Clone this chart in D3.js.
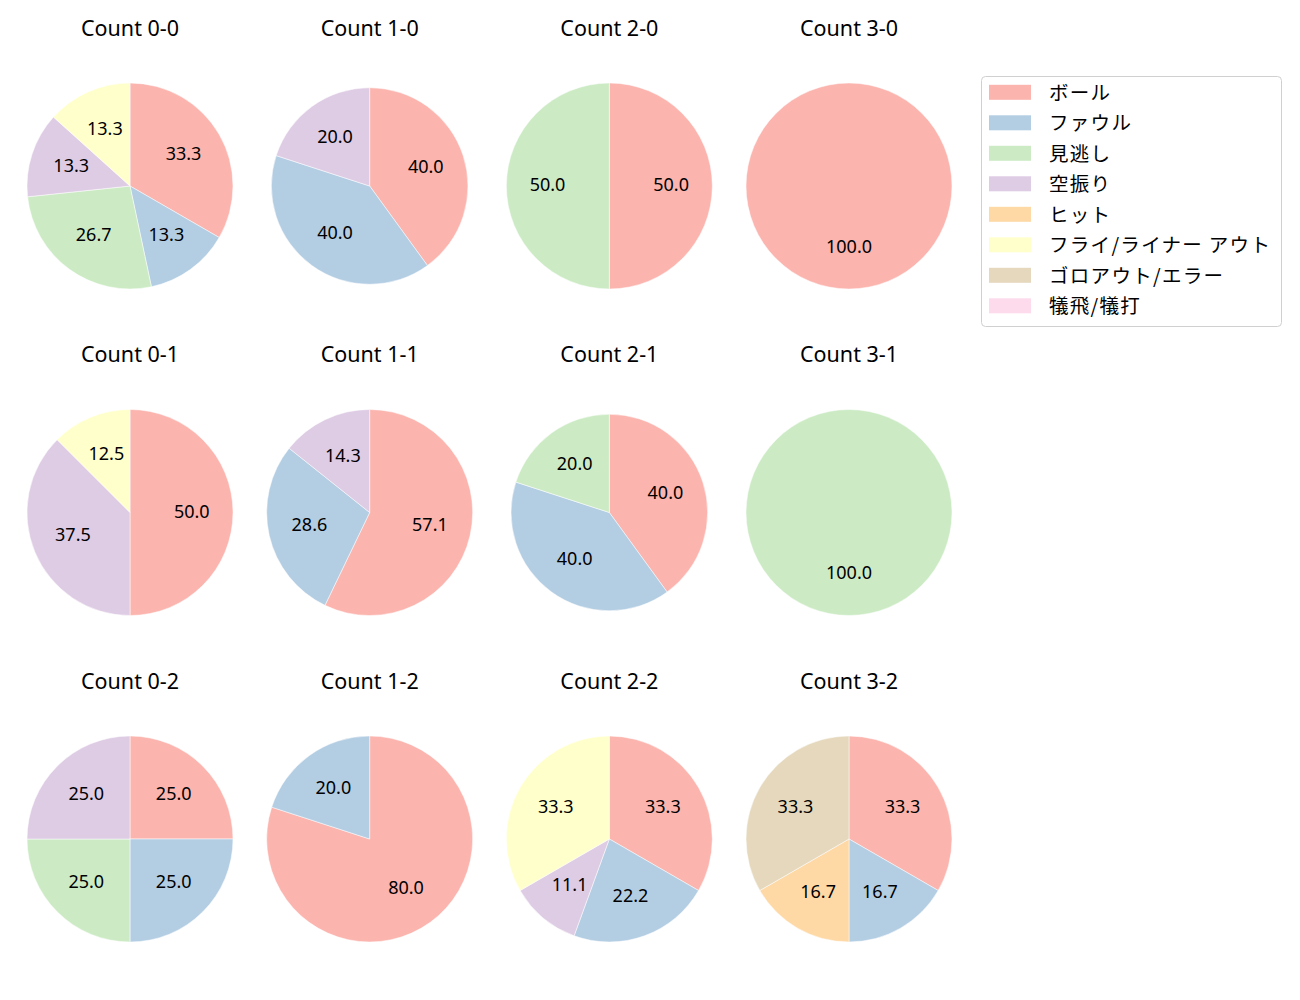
<!DOCTYPE html>
<html>
<head>
    <meta charset="utf-8">
    <title>Count pies</title>
    <script src="https://cdnjs.cloudflare.com/ajax/libs/d3/7.8.5/d3.min.js"></script>
    <style>
        body { margin: 0; background: #fff; }
        text { fill: #000; }
        .title { font-family: "Noto Sans", sans-serif; font-size: 21.5px; }
        .pct { font-family: "Noto Sans", sans-serif; font-size: 18px; }
        .legend-text { font-family: "Noto Sans CJK JP", sans-serif; font-size: 19.5px; letter-spacing: 1.3px; }
    </style>
</head>
<body>
    <div id="chart"></div>
    <script>
        // result categories (legend order)
        const categories = ['ボール', 'ファウル', '見逃し', '空振り', 'ヒット', 'フライ/ライナー アウト', 'ゴロアウト/エラー', '犠飛/犠打'];
        const colors = ['#fbb4ae', '#b3cde3', '#ccebc5', '#decbe4', '#fed9a6', '#ffffcc', '#e5d8bd', '#fddaec'];

        // pitch counts, row by row (strikes), column by column (balls)
        const counts = ['0-0', '1-0', '2-0', '3-0', '0-1', '1-1', '2-1', '3-1', '0-2', '1-2', '2-2', '3-2'];

        // number of pitches per category for each count
        const values = [
            [5, 2, 4, 2, 0, 2, 0, 0],
            [2, 2, 0, 1, 0, 0, 0, 0],
            [1, 0, 1, 0, 0, 0, 0, 0],
            [1, 0, 0, 0, 0, 0, 0, 0],
            [4, 0, 0, 3, 0, 1, 0, 0],
            [4, 2, 0, 1, 0, 0, 0, 0],
            [2, 2, 1, 0, 0, 0, 0, 0],
            [0, 0, 1, 0, 0, 0, 0, 0],
            [1, 1, 1, 1, 0, 0, 0, 0],
            [4, 1, 0, 0, 0, 0, 0, 0],
            [3, 2, 0, 1, 0, 3, 0, 0],
            [2, 1, 0, 0, 1, 0, 2, 0]
        ];

        const W = 1300, H = 1000;
        const svg = d3.select('#chart').append('svg')
            .attr('width', W)
            .attr('height', H);

        // grid of pie centres
        const xPos = d3.scalePoint().domain([0, 1, 2, 3]).range([130, 849]);
        const yPos = d3.scalePoint().domain([0, 1, 2]).range([186, 839]);
        const radius = 103;
        const smaller = ['1-0', '2-1'];

        const color = d3.scaleOrdinal().domain(categories).range(colors);

        const pie = d3.pie()
            .sort(null)
            .value(d => d.v);

        counts.forEach((c, i) => {
            const col = i % 4, row = Math.floor(i / 4);
            const r = smaller.includes(c) ? 98.3 : radius;
            const total = d3.sum(values[i]);
            const items = categories.map((k, j) => ({ k: k, v: values[i][j] }))
                .filter(d => d.v > 0);

            const g = svg.append('g')
                .attr('transform', `translate(${xPos(col)},${yPos(row)})`);

            g.append('text')
                .attr('class', 'title')
                .attr('x', 0)
                .attr('y', -159)
                .attr('text-anchor', 'middle')
                .attr('dominant-baseline', 'central')
                .text('Count ' + c);

            const arc = d3.arc().innerRadius(0).outerRadius(r);
            const labelArc = d3.arc().innerRadius(r * 0.6).outerRadius(r * 0.6);
            const arcs = pie(items);

            g.selectAll('path')
                .data(arcs)
                .enter()
                .append('path')
                .attr('d', arc)
                .attr('fill', d => color(d.data.k))
                .attr('stroke', '#fff')
                .attr('stroke-width', 0.5);

            g.selectAll('.pct')
                .data(arcs)
                .enter()
                .append('text')
                .attr('class', 'pct')
                .attr('transform', d => `translate(${labelArc.centroid(d)})`)
                .attr('y', -2)
                .attr('text-anchor', 'middle')
                .attr('dominant-baseline', 'central')
                .text(d => (d.data.v / total * 100).toFixed(1));
        });

        // legend
        const legend = svg.append('g')
            .attr('transform', 'translate(981,76)');

        legend.append('rect')
            .attr('x', 0.5)
            .attr('y', 0.5)
            .attr('width', 300)
            .attr('height', 250)
            .attr('rx', 4)
            .attr('fill', '#fff')
            .attr('stroke', '#d0d0d0');

        const rowY = d3.scaleLinear().domain([0, 7]).range([16.3, 229.8]);

        const entry = legend.selectAll('.entry')
            .data(categories)
            .enter()
            .append('g')
            .attr('class', 'entry')
            .attr('transform', (d, i) => `translate(0,${rowY(i)})`);

        entry.append('rect')
            .attr('x', 8)
            .attr('y', -7.5)
            .attr('width', 42)
            .attr('height', 15)
            .attr('fill', d => color(d));

        entry.append('text')
            .attr('class', 'legend-text')
            .attr('x', 68)
            .attr('y', -1)
            .attr('dominant-baseline', 'central')
            .text(d => d);
    </script>
</body>
</html>
